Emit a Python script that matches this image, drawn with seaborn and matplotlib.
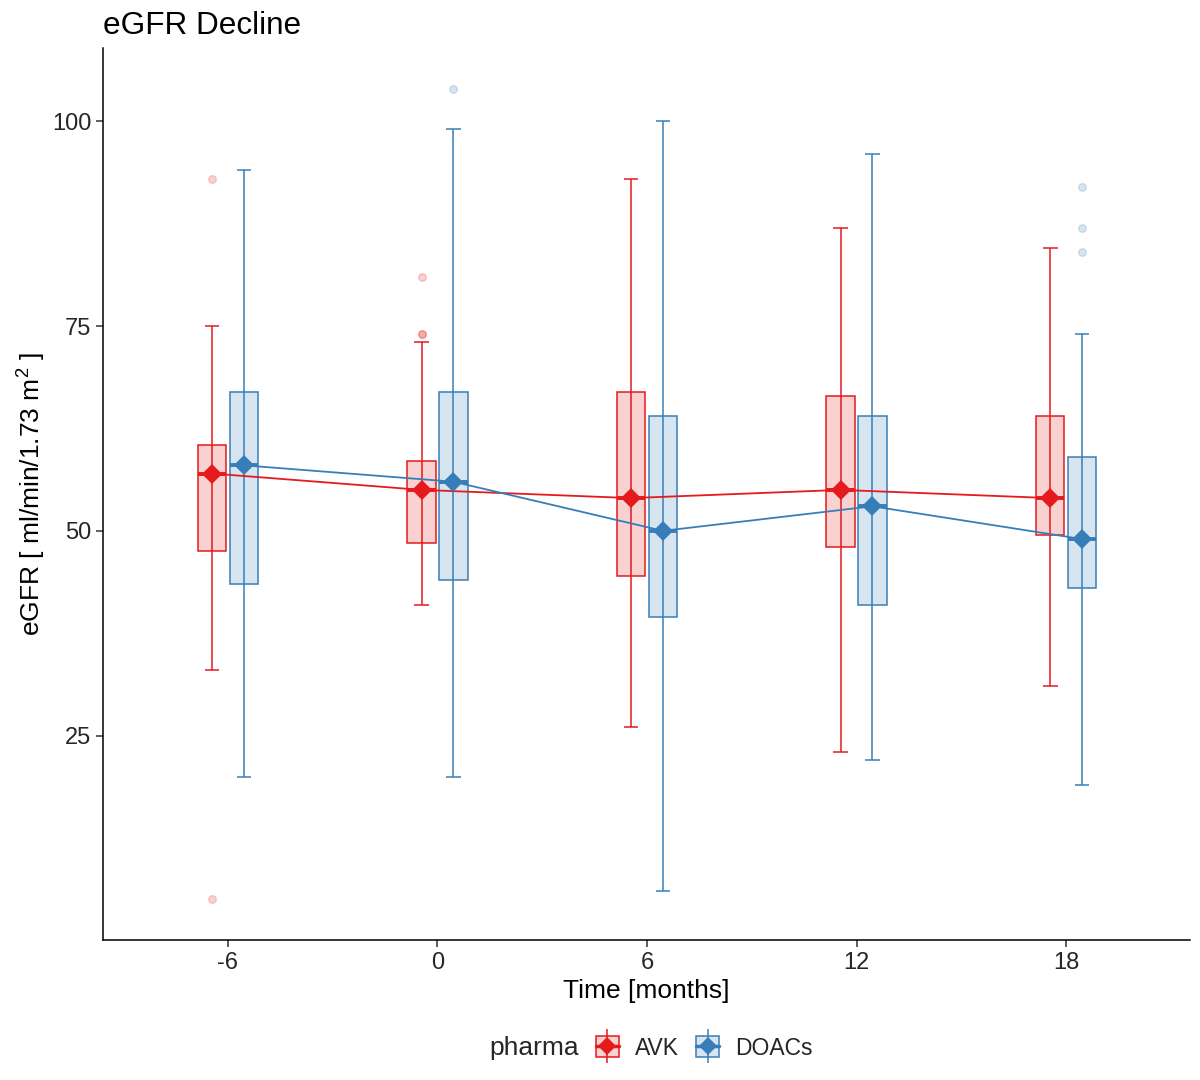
import numpy as np
import pandas as pd
import matplotlib
matplotlib.use('Agg')
import matplotlib.pyplot as plt
import seaborn as sns
from matplotlib.lines import Line2D
from matplotlib.patches import Patch
from matplotlib.legend_handler import HandlerTuple
from matplotlib.colors import to_rgba

# data (box plot summaries per time point)
times = np.array([-6, 0, 6, 12, 18])
tick_labels = ['-6', '0', '6', '12', '18']

avk_lo = [33, 41, 26, 23, 31]
avk_q1 = [47.5, 48.5, 44.5, 48, 49.5]
avk_med = [57, 55, 54, 55, 54]
avk_q3 = [60.5, 58.5, 67, 66.5, 64]
avk_hi = [75, 73, 93, 87, 84.5]
avk_out = [[93, 5], [74, 74, 81], [], [], []]

doac_lo = [20, 20, 6, 22, 19]
doac_q1 = [43.5, 44, 39.5, 41, 43]
doac_med = [58, 56, 50, 53, 49]
doac_q3 = [67, 67, 64, 64, 59]
doac_hi = [94, 99, 100, 96, 74]
doac_out = [[], [104], [], [], [92, 87, 84]]

groups = ['AVK', 'DOACs']
colors = {'AVK': '#E41A1C', 'DOACs': '#377EB8'}
offsets = {'AVK': -0.455, 'DOACs': 0.455}
summ = {
    'AVK': (avk_lo, avk_q1, avk_med, avk_q3, avk_hi, avk_out),
    'DOACs': (doac_lo, doac_q1, doac_med, doac_q3, doac_hi, doac_out),
}

sns.set_theme(style='ticks')
plt.rcParams['font.family'] = ['Liberation Sans', 'DejaVu Sans']
plt.rcParams['mathtext.fontset'] = 'custom'
plt.rcParams['mathtext.rm'] = 'Liberation Sans'
plt.rcParams['mathtext.it'] = 'Liberation Sans:italic'

fig = plt.figure(figsize=(12, 10.8), dpi=100)
ax = fig.add_axes([0.0858, 0.1296, 0.9059, 0.826])

box_w = 0.816
cap_w = 0.42
rows = []
for g in groups:
    c = colors[g]
    lo, q1, med, q3, hi, out = summ[g]
    pos = times + offsets[g]
    # whiskers (errorbar style, through the box) with caps
    ax.vlines(pos, lo, hi, color=c, lw=1.1, zorder=2)
    ax.hlines(lo, pos - cap_w / 2, pos + cap_w / 2, color=c, lw=1.1, zorder=2)
    ax.hlines(hi, pos - cap_w / 2, pos + cap_w / 2, color=c, lw=1.1, zorder=2)
    stats = []
    for i in range(len(times)):
        stats.append(dict(med=med[i], q1=q1[i], q3=q3[i], whislo=q1[i], whishi=q3[i],
                          fliers=np.array(out[i], dtype=float)))
    ax.bxp(stats, positions=pos, widths=box_w, patch_artist=True, showcaps=False,
           manage_ticks=False,
           boxprops=dict(facecolor=to_rgba(c, 0.2), edgecolor=c, linewidth=1.1),
           medianprops=dict(color=c, linewidth=2.8),
           whiskerprops=dict(linestyle='none'),
           flierprops=dict(marker='o', markerfacecolor=to_rgba(c, 0.2),
                           markeredgecolor=to_rgba(c, 0.2), markersize=5.5))
    for i in range(len(times)):
        rows.append({'x': pos[i], 'median': med[i], 'pharma': g})

df = pd.DataFrame(rows)
sns.lineplot(data=df, x='x', y='median', hue='pharma', palette=colors, marker='D',
             markersize=10, markeredgewidth=0, linewidth=1.3, legend=False, ax=ax, zorder=4)

ax.set_xlim(-9.58, 21.55)
ax.set_ylim(0.05, 108.95)
ax.set_xticks(times)
ax.set_xticklabels(tick_labels)
ax.set_yticks([25, 50, 75, 100])
sns.despine(ax=ax)
for s in ['left', 'bottom']:
    ax.spines[s].set_color('black')
    ax.spines[s].set_linewidth(1.1)
ax.tick_params(axis='both', length=5, width=1.1, color='#333333',
               labelsize=17, labelcolor='#262626')

ax.set_xlabel('Time [months]', fontsize=19, color='black', labelpad=4)
ax.set_ylabel(r'eGFR [ ml/min/1.73 m$^2$ ]', fontsize=19, color='black', labelpad=3)
ax.set_title('eGFR Decline', loc='left', fontsize=22.7, pad=10, color='black')

handles = []
for g in groups:
    c = colors[g]
    handles.append((Patch(facecolor=to_rgba(c, 0.2), edgecolor=c, linewidth=1.1),
                    Line2D([], [], marker='|', markersize=24, color=c, linestyle='none',
                           markeredgewidth=1.1),
                    Line2D([], [], marker='D', markersize=9, color=c, linewidth=2.5,
                           markeredgewidth=0)))
fig.legend(handles=handles, labels=groups, loc='center left', bbox_to_anchor=(0.4967, 0.0296),
           ncol=2, frameon=False, fontsize=16.5, handlelength=1.0, handleheight=1.0,
           columnspacing=0.75, handletextpad=0.7, borderpad=0, borderaxespad=0,
           handler_map={tuple: HandlerTuple(ndivide=1, pad=0)})
fig.text(0.408, 0.0296, 'pharma', fontsize=19, va='center', ha='left')

fig.savefig('out.png', dpi=100)
